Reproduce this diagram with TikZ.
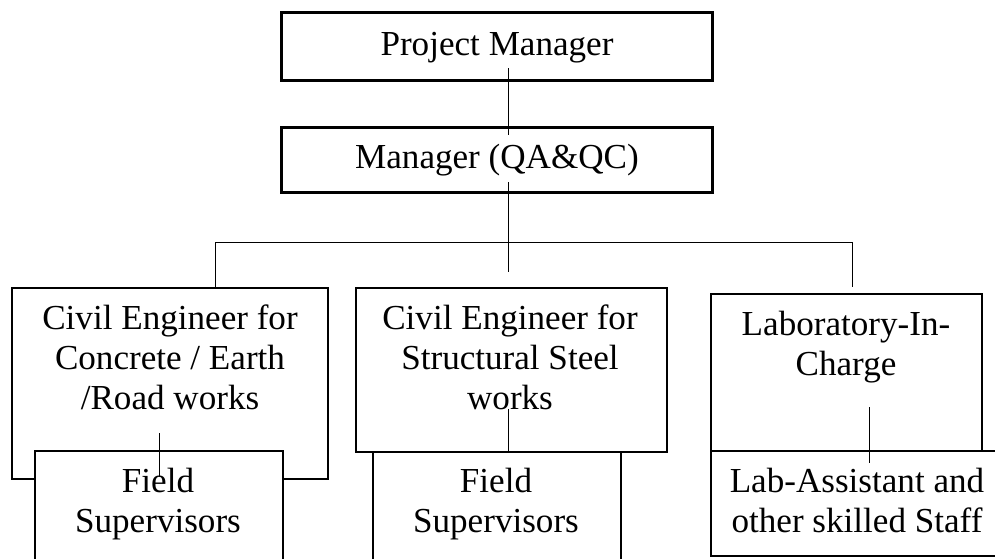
\documentclass[tikz,border=0pt]{standalone}
\usepackage{fontspec}
\setmainfont{Liberation Serif}
\begin{document}
\begin{tikzpicture}[x=1pt,y=-1pt,
  box/.style={draw, line width=1.5pt, fill=white, inner sep=0pt, outer sep=0pt, anchor=north west},
  topbox/.style={box, line width=3pt},
  lbl/.style={anchor=base, inner sep=0pt, font=\fontsize{35.1}{40}\selectfont},
  link/.style={line width=1pt}]
\useasboundingbox (0,0) rectangle (995,558);

% top boxes
\node[topbox, minimum width=431pt, minimum height=68pt] (pm) at (281,12) {};
\node[lbl] (pmt) at (497,55) {Project Manager};
\node[topbox, minimum width=431pt, minimum height=65pt] (mg) at (281,127) {};
\node[lbl] (mgt) at (497,168) {Manager (QA\&QC)};

% connector coordinates
\coordinate (pmA) at (508,68);
\coordinate (mgB) at (508,135);
\coordinate (mgA) at (508,182);
\coordinate (hubM) at (508,272);
\coordinate (hubL) at (215,242);
\coordinate (hubR) at (852,242);
\coordinate (c1top) at (215,288);
\coordinate (c3top) at (852,287);

\draw[link] (pmA) -- (mgB);
\draw[link] (mgA) -- (hubM);
\draw[link] (c1top) -- (hubL) -- (hubR) -- (c3top);

% column 1
\node[box, minimum width=316pt, minimum height=191pt] (c1) at (12,288) {};
\node[lbl] (c1t) at (170,329) {\begin{tabular}[t]{@{}c@{}}Civil Engineer for\\Concrete / Earth\\/Road works\end{tabular}};
\node[box, minimum width=248pt, minimum height=140pt] (f1) at (35,451) {};
\node[lbl] (f1t) at (158,492) {\begin{tabular}[t]{@{}c@{}}Field\\Supervisors\end{tabular}};
\coordinate (f1a) at (159,433);
\coordinate (f1b) at (159,477);
\draw[link] (f1a) -- (f1b);

% column 2
\node[box, minimum width=311pt, minimum height=164pt] (c2) at (356,288) {};
\node[lbl] (c2t) at (510,329) {\begin{tabular}[t]{@{}c@{}}Civil Engineer for\\Structural Steel\\works\end{tabular}};
\node[box, minimum width=248pt, minimum height=140pt] (f2) at (373,452) {};
\node[lbl] (f2t) at (496,492) {\begin{tabular}[t]{@{}c@{}}Field\\Supervisors\end{tabular}};
\coordinate (f2a) at (508,409);
\coordinate (f2b) at (508,452);
\draw[link] (f2a) -- (f2b);

% column 3
\node[box, minimum width=271pt, minimum height=158pt] (c3) at (711,294) {};
\node[lbl] (c3t) at (846,335) {\begin{tabular}[t]{@{}c@{}}Laboratory-In-\\Charge\end{tabular}};
\node[box, minimum width=300pt, minimum height=105pt] (la) at (711,451) {};
\node[lbl] (lat) at (857,492) {\begin{tabular}[t]{@{}c@{}}Lab-Assistant and\\other skilled Staff\end{tabular}};
\coordinate (laa) at (869,407);
\coordinate (lab) at (869,463);
\draw[link] (laa) -- (lab);
\end{tikzpicture}
\end{document}
